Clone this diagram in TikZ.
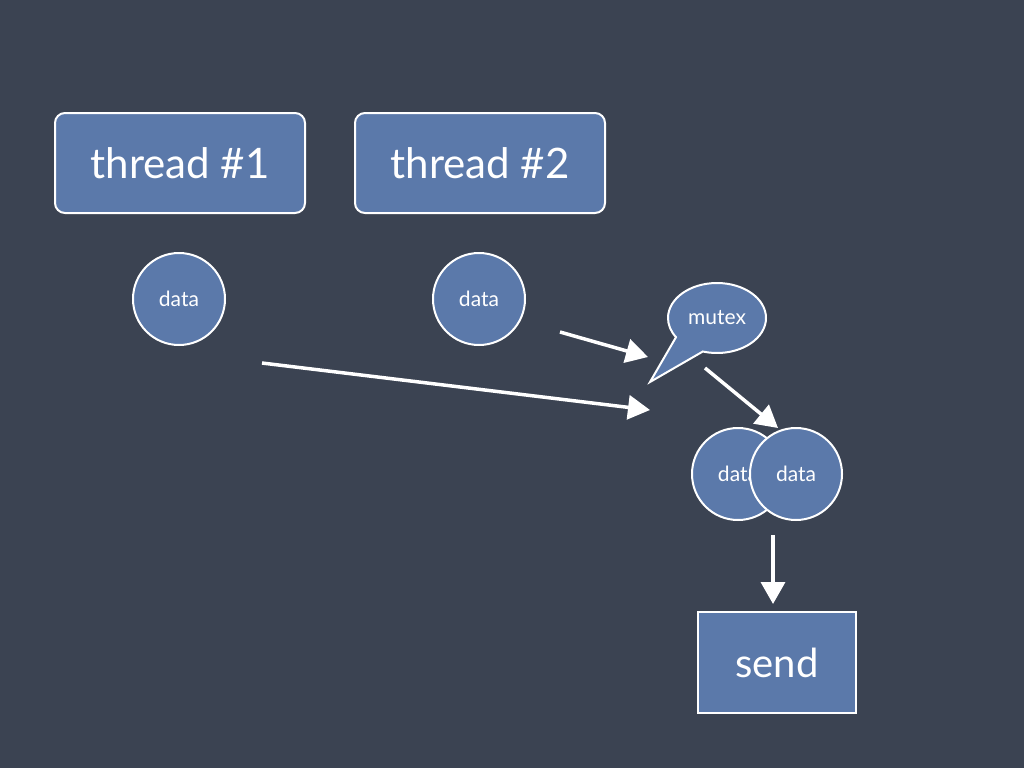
\documentclass[tikz,border=0pt]{standalone}
\usepackage{fontspec}
\setmainfont{Lato}
\usetikzlibrary{positioning, shapes.geometric, shapes.callouts, arrows.meta}
\definecolor{board}{HTML}{3B4352}
\definecolor{chip}{HTML}{5B79AA}
\tikzset{
  box/.style={draw=white, line width=2pt, fill=chip, text=white, minimum width=250pt, minimum height=100pt, rounded corners=10pt, font=\fontsize{42}{46}\selectfont},
  datum/.style={circle, draw=white, line width=2pt, fill=chip, text=white, minimum size=92pt, inner sep=0pt, font=\fontsize{21}{24}\selectfont},
  chalk/.style={draw=white, line width=3.5pt, -{Triangle[length=22pt,width=24pt]}}
}
\begin{document}
\begin{tikzpicture}[x=1pt, y=-1pt]
  \fill[board] (0,0) rectangle (1024,768);
  \useasboundingbox (0,0) rectangle (1024,768);
  \node[box] (thr1) at (180,163) {thread \#1};
  \node[box] (thr2) at (480,163) {thread \#2};
  \node[datum] (dat1) at (179,299) {data};
  \node[datum] (dat2) at (479,299) {data};
  \coordinate (tip) at (650,382);
  \node[ellipse callout, draw=white, line width=2pt, fill=chip, text=white, minimum width=98pt, minimum height=70pt, inner sep=0pt, callout absolute pointer={(tip)}, callout pointer arc=40, font=\fontsize{21}{24}\selectfont] (mtx) at (717,318) {mutex};
  \node[datum] (datA) at (738,474) {data};
  \node[datum] (datB) at (796,474) {data};
  \node[box, rounded corners=0pt, minimum width=158pt, minimum height=101pt, font=\fontsize{40}{44}\selectfont] (snd) at (777,662.5) {send};
  % arrows
  \coordinate (a1s) at (560,332); \coordinate (a1e) at (648,357);
  \coordinate (a2s) at (262,363); \coordinate (a2e) at (650,410);
  \coordinate (a3s) at (705,368); \coordinate (a3e) at (778,428);
  \coordinate (a4s) at (773,535); \coordinate (a4e) at (773,604);
  \draw[chalk] (a1s) -- (a1e);
  \draw[chalk] (a2s) -- (a2e);
  \draw[chalk] (a3s) -- (a3e);
  \draw[chalk] (a4s) -- (a4e);
\end{tikzpicture}
\end{document}
